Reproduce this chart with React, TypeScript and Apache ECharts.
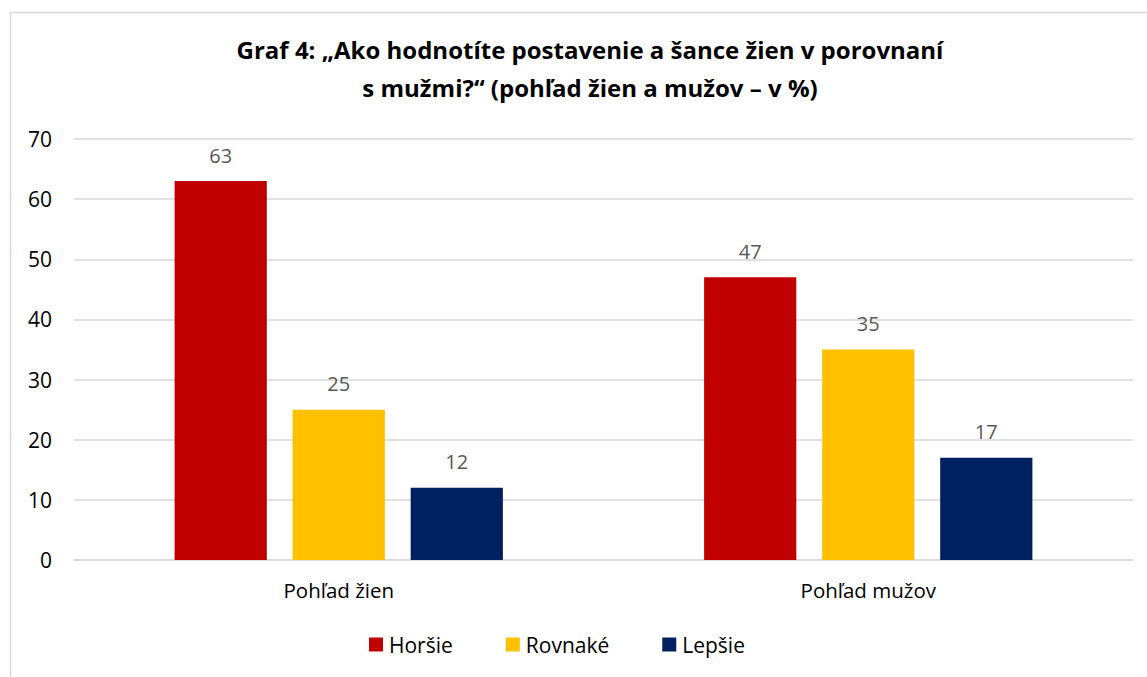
import React, { useEffect, useRef } from "react";
import * as echarts from "echarts";

const categories = ["Pohľad žien", "Pohľad mužov"];
const seriesNames = ["Horšie", "Rovnaké", "Lepšie"];
const horsie = [63, 47];
const rovnake = [25, 35];
const lepsie = [12, 17];
const colors = ["#C00000", "#FFC000", "#002060"];
const titleText = "Graf 4: „Ako hodnotíte postavenie a šance žien v porovnaní\ns mužmi?“ (pohľad žien a mužov – v %)";

export default function App() {
  const ref = useRef<HTMLDivElement>(null);
  useEffect(() => {
    if (!ref.current) return;
    const chart = echarts.init(ref.current, null, { renderer: "svg" });
    const font = "'Open Sans', 'Noto Sans', sans-serif";
    const data = [horsie, rovnake, lepsie];
    chart.setOption({
      animation: false,
      backgroundColor: "#ffffff",
      textStyle: { fontFamily: font },
      title: {
        text: titleText,
        left: 585,
        textAlign: "center",
        top: 25,
        textStyle: { fontSize: 24, fontWeight: "bold", color: "#000", lineHeight: 38, fontFamily: font },
      },
      graphic: [
        {
          type: "rect",
          shape: { x: 10.5, y: 12.5, width: 1200, height: 700 },
          style: { fill: "none", stroke: "#d9d9d9", lineWidth: 1.5 },
          silent: true,
        },
      ],
      legend: {
        bottom: 17,
        left: 364,
        itemWidth: 14,
        itemHeight: 14,
        itemGap: 53,
        icon: "rect",
        textStyle: { fontSize: 21, color: "#000", fontFamily: font, padding: [0, 0, 0, 1] },
        data: seriesNames,
      },
      grid: { left: 74, right: 14, top: 139, bottom: 117, containLabel: false },
      xAxis: {
        type: "category",
        data: categories,
        axisLine: { show: true, lineStyle: { color: "#d9d9d9", width: 1.5 } },
        axisTick: { show: false },
        axisLabel: { fontSize: 20.5, color: "#000", margin: 19, fontFamily: font },
      },
      yAxis: {
        type: "value",
        min: 0,
        max: 70,
        interval: 10,
        axisLine: { show: false },
        axisTick: { show: false },
        splitLine: { lineStyle: { color: "#d9d9d9", width: 1.5 } },
        axisLabel: { fontSize: 21, color: "#000", margin: 22, fontFamily: font },
      },
      series: seriesNames.map((name, i) => ({
        name,
        type: "bar",
        data: data[i],
        itemStyle: { color: colors[i] },
        barGap: "28%",
        barCategoryGap: "38%",
        label: {
          show: true,
          position: "top",
          distance: 16,
          fontSize: 20,
          color: "#595959",
          fontFamily: font,
        },
      })),
    });
    return () => chart.dispose();
  }, []);
  return (
    <div
      ref={ref}
      style={{ position: "absolute", left: 0, top: 0, width: 1147, height: 677 }}
    />
  );
}
